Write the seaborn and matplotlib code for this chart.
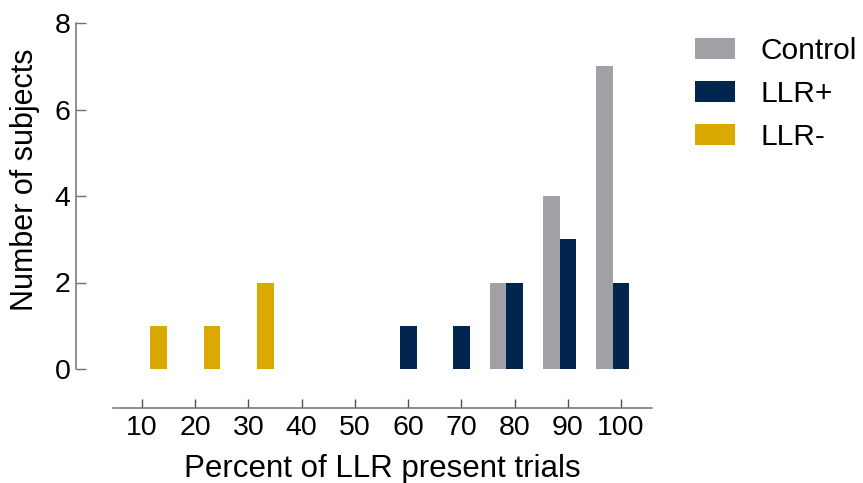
import matplotlib
matplotlib.use("Agg")
import matplotlib.pyplot as plt
import seaborn as sns
import pandas as pd

categories = ["10", "20", "30", "40", "50", "60", "70", "80", "90", "100"]
groups = ["Control", "LLR+", "LLR-"]
control = [0, 0, 0, 0, 0, 0, 0, 2, 4, 7]
llr_pos = [0, 0, 0, 0, 0, 1, 1, 2, 3, 2]
llr_neg = [1, 1, 2, 0, 0, 0, 0, 0, 0, 0]
colors = ["#A0A0A5", "#00264F", "#DAAA00"]

rows = []
for g, vals in zip(groups, [control, llr_pos, llr_neg]):
    for c, v in zip(categories, vals):
        rows.append({"pct": c, "group": g, "n": v})
df = pd.DataFrame(rows)

sns.set_theme(style="ticks")
plt.rcParams["font.family"] = ["Liberation Sans", "DejaVu Sans"]
plt.rcParams["text.color"] = "black"
plt.rcParams["axes.labelcolor"] = "black"
plt.rcParams["xtick.labelcolor"] = "black"
plt.rcParams["ytick.labelcolor"] = "black"

fig = plt.figure(figsize=(8.63, 4.83), dpi=100)
ax = fig.add_axes([113/863, 114/483, 539/863, 346/483])

sns.barplot(data=df, x="pct", y="n", hue="group", order=categories,
            hue_order=groups, palette=colors, saturation=1, width=0.94, gap=0,
            linewidth=0, ax=ax)

ax.set_xlim(-0.545, 9.58)
ax.set_ylim(0, 8)
ax.set_yticks([0, 2, 4, 6, 8])

for s in ["top", "right"]:
    ax.spines[s].set_visible(False)
ax.spines["left"].set_position(("outward", 26.5))
ax.spines["bottom"].set_position(("outward", 28))
ax.spines["left"].set_bounds(0, 8)
for s in ["left", "bottom"]:
    ax.spines[s].set_color("#707070")
    ax.spines[s].set_linewidth(1.1)

ax.tick_params(axis="x", direction="in", length=6.5, width=1.0, color="#505050",
               labelsize=20.5, pad=5, labelcolor="black")
ax.tick_params(axis="y", direction="in", length=7, width=1.0, color="#707070",
               labelsize=20.5, pad=4, labelcolor="black")

ax.set_xlabel("Percent of LLR present trials", fontsize=22.5, color="black")
ax.set_ylabel("Number of subjects", fontsize=22, color="black")
ax.yaxis.set_label_coords(-0.135, 0.546)
ax.xaxis.set_label_coords(0.5, -0.245)

handles, labels = ax.get_legend_handles_labels()
ax.legend(handles, labels, loc="upper left", bbox_to_anchor=(695/863, 1 - 37/483),
          bbox_transform=fig.transFigure, frameon=False, fontsize=21.5,
          handlelength=1.34, handleheight=0.67, handletextpad=0.84,
          labelspacing=0.5, borderpad=0, borderaxespad=0)

fig.savefig("out.png", dpi=100)
